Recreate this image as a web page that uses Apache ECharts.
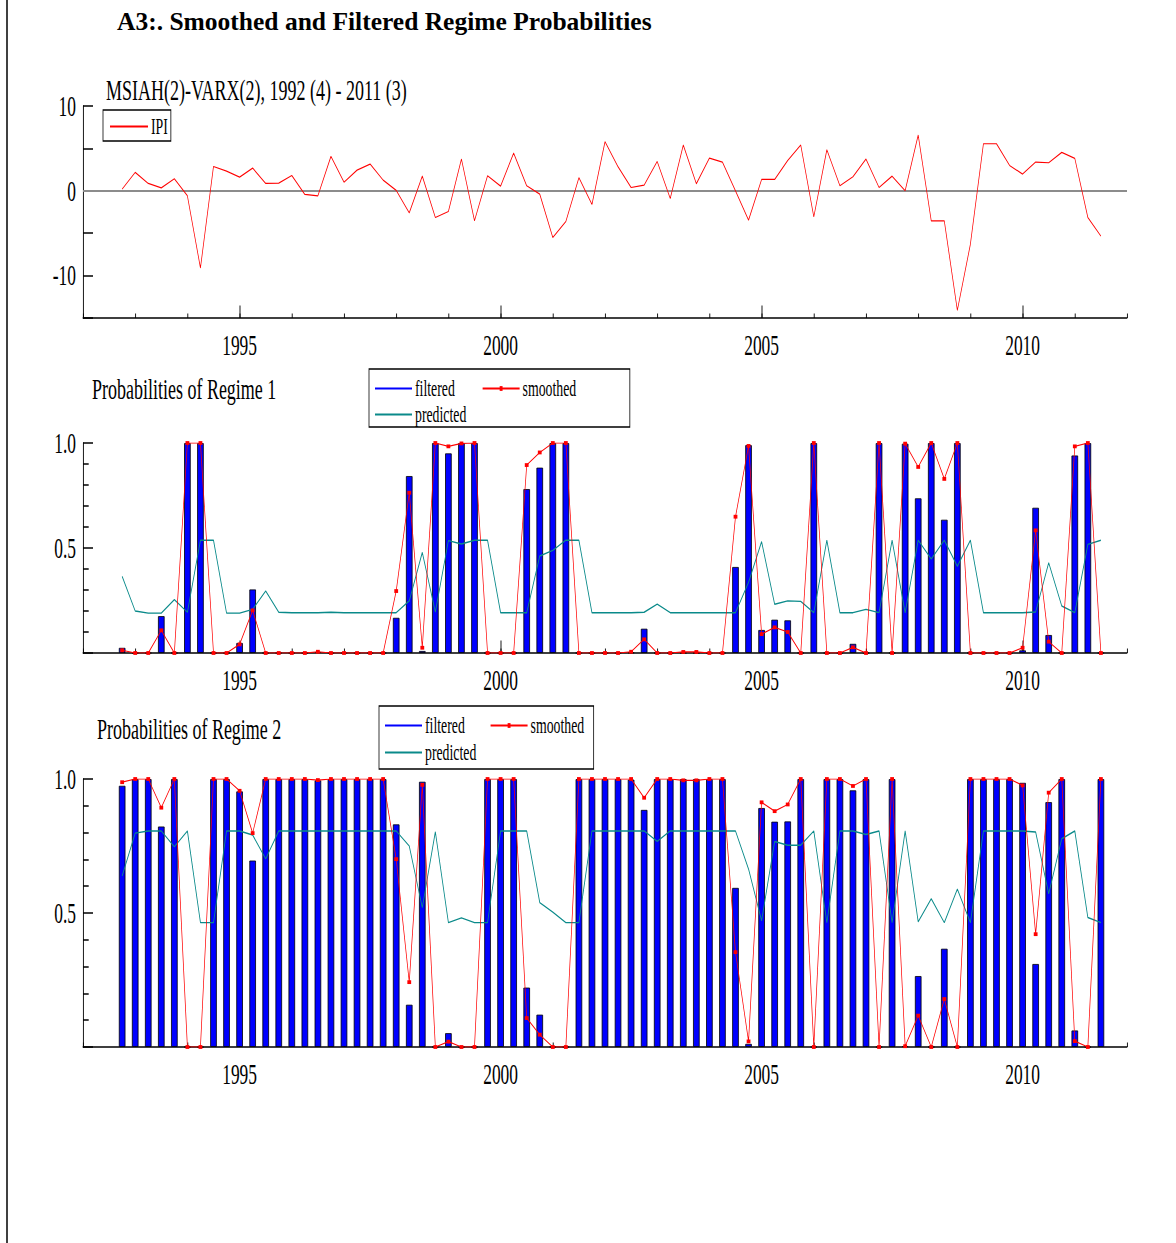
<!DOCTYPE html>
<html>
<head>
<meta charset="utf-8">
<title>A3:. Smoothed and Filtered Regime Probabilities</title>
<script src="https://cdn.jsdelivr.net/npm/echarts@6/dist/echarts.min.js"></script>
<style>
  html, body { margin: 0; padding: 0; background: #fff; overflow: hidden; }
  #chart { position: absolute; left: 0; top: 0; height: 1243px; transform-origin: 0 0; }
</style>
</head>
<body>
<div id="chart"></div>
<script>
// the source graph was squeezed sideways, so draw it wide and scale the page down
const SX = 0.6
const X = px => px / SX

// first observation: 1992 (4)
const START = 1992.75
const yearLabels = [1995, 2000, 2005, 2010]
const ipiLabels = [-10, 0, 10]

const ipi = [0.2, 2.17, 0.87, 0.35, 1.42, -0.59, -9.1, 2.87, 2.32, 1.61,
  2.68, 0.87, 0.9, 1.81, -0.43, -0.59, 4.06, 1.02, 2.44, 3.15,
  1.26, 0.05, -2.6, 1.73, -3.15, -2.44, 3.74, -3.54, 1.77, 0.55,
  4.45, 0.59, -0.39, -5.5, -3.62, 1.54, -1.61, 5.79, 2.83, 0.39,
  0.67, 3.46, -0.9, 5.39, 0.83, 3.86, 3.39, 0.0, -3.46, 1.34,
  1.34, 3.58, 5.39, -3.07, 4.84, 0.59, 1.65, 3.74, 0.39, 1.73,
  0.0, 6.57, -3.54, -3.54, -14.1, -6.3, 5.55, 5.55, 2.99, 1.97,
  3.39, 3.31, 4.53, 3.82, -3.15, -5.35]

const filtered1 = [0.025, 0, 0, 0.176, 0, 1, 1, 0, 0, 0.048,
  0.303, 0, 0, 0, 0, 0.005, 0, 0, 0, 0,
  0, 0.168, 0.843, 0.01, 1, 0.951, 1, 1, 0, 0,
  0, 0.781, 0.883, 1, 1, 0, 0, 0, 0, 0.002,
  0.116, 0, 0, 0, 0, 0, 0, 0.41, 0.99, 0.11,
  0.159, 0.156, 0, 1, 0, 0, 0.044, 0, 1, 0,
  0.997, 0.737, 1, 0.635, 1, 0, 0, 0, 0, 0.013,
  0.692, 0.086, 0, 0.941, 1, 0]
const smoothed1 = [0.013, 0, 0, 0.108, 0, 1, 1, 0, 0, 0.041,
  0.203, 0, 0, 0, 0, 0.006, 0, 0, 0, 0,
  0, 0.295, 0.763, 0.025, 1, 0.984, 0.998, 1, 0, 0,
  0, 0.895, 0.955, 1, 1, 0, 0, 0, 0, 0.006,
  0.065, 0, 0, 0.005, 0.005, 0, 0, 0.649, 0.986, 0.09,
  0.122, 0.1, 0, 1, 0, 0, 0.027, 0, 1, 0,
  0.997, 0.886, 1, 0.829, 1, 0, 0, 0, 0, 0.025,
  0.584, 0.054, 0, 0.984, 1, 0]
const predicted1 = [0.365, 0.2, 0.19, 0.19, 0.254, 0.194, 0.537, 0.537, 0.19, 0.19,
  0.208, 0.295, 0.194, 0.192, 0.192, 0.192, 0.194, 0.192, 0.192, 0.192,
  0.192, 0.192, 0.248, 0.479, 0.195, 0.535, 0.519, 0.537, 0.537, 0.192,
  0.192, 0.192, 0.462, 0.489, 0.537, 0.537, 0.192, 0.192, 0.192, 0.192,
  0.194, 0.233, 0.192, 0.192, 0.192, 0.192, 0.192, 0.192, 0.336, 0.53,
  0.232, 0.248, 0.246, 0.192, 0.537, 0.192, 0.192, 0.208, 0.192, 0.537,
  0.192, 0.537, 0.448, 0.537, 0.413, 0.537, 0.192, 0.192, 0.192, 0.192,
  0.195, 0.43, 0.224, 0.192, 0.517, 0.537]

const filtered2 = [0.975, 1, 1, 0.823, 1, 0, 0, 1, 1, 0.954,
  0.696, 1, 1, 1, 1, 0.995, 1, 1, 1, 1,
  1, 0.831, 0.158, 0.99, 0, 0.052, 0, 0, 1, 1,
  1, 0.222, 0.121, 0, 0, 1, 1, 1, 1, 0.998,
  0.885, 1, 1, 1, 1, 1, 1, 0.594, 0.012, 0.892,
  0.841, 0.842, 1, 0, 1, 1, 0.958, 1, 0, 1,
  0.003, 0.265, 0, 0.367, 0, 1, 1, 1, 1, 0.986,
  0.31, 0.914, 1, 0.062, 0, 1]
const smoothed2 = [0.988, 1, 1, 0.893, 1, 0, 0, 1, 1, 0.956,
  0.798, 1, 1, 1, 1, 0.996, 1, 1, 1, 1,
  1, 0.701, 0.242, 0.978, 0, 0.02, 0, 0, 1, 1,
  1, 0.108, 0.046, 0, 0, 1, 1, 1, 1, 1,
  0.93, 1, 1, 0.995, 0.995, 1, 1, 0.354, 0.021, 0.913,
  0.88, 0.905, 1, 0, 1, 1, 0.974, 1, 0, 1,
  0.003, 0.117, 0, 0.179, 0, 1, 1, 1, 1, 0.976,
  0.421, 0.949, 1, 0.022, 0, 1]
const predicted2 = [0.638, 0.798, 0.806, 0.806, 0.747, 0.806, 0.464, 0.464, 0.806, 0.806,
  0.791, 0.702, 0.806, 0.806, 0.806, 0.806, 0.806, 0.806, 0.806, 0.806,
  0.806, 0.806, 0.75, 0.52, 0.803, 0.464, 0.482, 0.464, 0.464, 0.806,
  0.806, 0.806, 0.539, 0.503, 0.464, 0.464, 0.806, 0.806, 0.806, 0.806,
  0.806, 0.767, 0.806, 0.806, 0.806, 0.806, 0.806, 0.806, 0.664, 0.471,
  0.767, 0.753, 0.753, 0.806, 0.464, 0.806, 0.806, 0.793, 0.806, 0.464,
  0.806, 0.467, 0.553, 0.464, 0.589, 0.464, 0.806, 0.806, 0.806, 0.806,
  0.802, 0.572, 0.777, 0.806, 0.483, 0.464]

const dates = ipi.map((v, i) => START + i / 4)
const pairs = arr => arr.map((v, i) => [dates[i], v])

const font = 'Liberation Serif'
const black = { color: '#000', width: 1.5 }
const lineIcon = 'path://M0,0H62V2H0Z'

function timeAxes(g) {
  return [
    {
      gridIndex: g, type: 'value', min: 1992, max: 2012, interval: 1,
      axisLine: { onZero: false, lineStyle: black },
      axisTick: { inside: true, length: 4.5, lineStyle: black },
      axisLabel: {
        margin: 13, color: '#000', fontFamily: font, fontSize: 29,
        formatter: v => (yearLabels.includes(v) ? String(v) : ''),
      },
      splitLine: { show: false },
    },
    {
      gridIndex: g, type: 'value', position: 'bottom', min: 1992, max: 2012,
      axisLine: { show: false, onZero: false },
      axisTick: { inside: true, length: 12.5, customValues: yearLabels, lineStyle: black },
      axisLabel: { show: false },
      splitLine: { show: false },
    },
  ]
}

function probAxis(g) {
  return {
    gridIndex: g, type: 'value', min: 0, max: 1, interval: 0.5,
    axisLine: { show: true, lineStyle: black },
    axisTick: { show: true, inside: true, length: X(10), lineStyle: black },
    minorTick: { show: true, splitNumber: 5, length: X(5.7), lineStyle: black },
    axisLabel: {
      margin: X(7), color: '#000', fontFamily: font, fontSize: 29,
      formatter: v => (v === 0 ? '' : v.toFixed(1)),
    },
    splitLine: { show: false },
  }
}

function regimeSeries(g, filtered, smoothed, predicted) {
  return [
    {
      type: 'bar', name: 'filtered', xAxisIndex: g * 2, yAxisIndex: g,
      data: pairs(filtered), barWidth: X(6.4),
      itemStyle: { color: '#0000ff', borderColor: '#000', borderWidth: 1 },
      z: 2,
    },
    {
      type: 'line', name: 'predicted', xAxisIndex: g * 2, yAxisIndex: g,
      data: pairs(predicted), symbol: 'none',
      lineStyle: { color: '#0a8a8a', width: 1.4 }, itemStyle: { color: '#0a8a8a' },
      z: 3,
    },
    {
      type: 'line', name: 'smoothed', xAxisIndex: g * 2, yAxisIndex: g,
      data: pairs(smoothed), symbol: 'rect', symbolSize: [X(3.8), 3.8],
      lineStyle: { color: '#ff0000', width: 1.2 }, itemStyle: { color: '#ff0000' },
      z: 4,
    },
  ]
}

function regimeLegend(left, top, textWidth, gap, padding) {
  return {
    left: X(left), top: top, orient: 'horizontal', width: X(250),
    itemWidth: X(37), itemHeight: 6, itemGap: gap,
    padding: padding,
    borderColor: '#000', borderWidth: 1.3, backgroundColor: '#fff',
    textStyle: { fontFamily: font, fontSize: 23, color: '#000', lineHeight: 22, width: textWidth },
    data: [
      { name: 'filtered', icon: lineIcon, itemStyle: { borderWidth: 0 } },
      'smoothed',
      { name: 'predicted', icon: lineIcon },
    ],
  }
}

const el = document.getElementById('chart')
el.style.width = X(1176) + 'px'
el.style.transform = 'scaleX(' + SX + ')'
const chart = echarts.init(el, null, { renderer: 'svg' })

const option = {
  animation: false,
  backgroundColor: '#fff',
  grid: [
    { left: X(83), width: X(1044), top: 106, height: 212 },
    { left: X(83), width: X(1044), top: 443, height: 210 },
    { left: X(83), width: X(1044), top: 779, height: 268 },
  ],
  xAxis: [...timeAxes(0), ...timeAxes(1), ...timeAxes(2)],
  yAxis: [
    {
      gridIndex: 0, type: 'value', min: -15, max: 10, interval: 5,
      axisLine: { show: true, lineStyle: black },
      axisTick: { show: true, inside: true, length: X(10), lineStyle: black },
      axisLabel: {
        margin: X(7), color: '#000', fontFamily: font, fontSize: 29,
        formatter: v => (ipiLabels.includes(v) ? String(v) : ''),
      },
      splitLine: { show: false },
    },
    probAxis(1),
    probAxis(2),
  ],
  legend: [
    {
      left: X(103), top: 110, itemWidth: X(38), itemHeight: 6,
      padding: [5, X(3), 3, X(7)],
      borderColor: '#000', borderWidth: 1.3, backgroundColor: '#fff',
      textStyle: { fontFamily: font, fontSize: 23, color: '#000', lineHeight: 22 },
      data: [{ name: 'IPI', icon: lineIcon }],
    },
    regimeLegend(369, 369, 108.7, 3, [8, X(42), 1, X(6)]),
    regimeLegend(379, 706, 104.3, 4, [8, X(0.5), 5, X(6)]),
  ],
  graphic: [
    {
      type: 'line', silent: true,
      shape: { x1: X(7), y1: 0, x2: X(7), y2: 1243 },
      style: { stroke: '#000', lineWidth: 2.5 },
    },
    {
      type: 'text', x: X(117), y: 22, scaleX: 1 / SX,
      style: {
        text: 'A3:. Smoothed and Filtered Regime Probabilities',
        fontFamily: font, fontWeight: 'bold', fontSize: 25.5, fill: '#000', verticalAlign: 'middle',
      },
    },
    {
      type: 'text', x: X(106), y: 90,
      style: { text: 'MSIAH(2)-VARX(2), 1992 (4) - 2011 (3)', fontFamily: font, fontSize: 30, fill: '#000', verticalAlign: 'middle' },
    },
    {
      type: 'text', x: X(92), y: 389,
      style: { text: 'Probabilities of Regime 1', fontFamily: font, fontSize: 30, fill: '#000', verticalAlign: 'middle' },
    },
    {
      type: 'text', x: X(97), y: 729,
      style: { text: 'Probabilities of Regime 2', fontFamily: font, fontSize: 30, fill: '#000', verticalAlign: 'middle' },
    },
  ],
  series: [
    {
      type: 'line', name: 'IPI', xAxisIndex: 0, yAxisIndex: 0,
      data: pairs(ipi), symbol: 'none',
      lineStyle: { color: '#ff0000', width: 1.2 }, itemStyle: { color: '#ff0000' },
      z: 3,
      markLine: {
        silent: true, symbol: 'none', z: 1,
        label: { show: false },
        lineStyle: { color: '#8c8c8c', type: 'solid', width: 2 },
        data: [{ yAxis: 0 }],
      },
    },
    ...regimeSeries(1, filtered1, smoothed1, predicted1),
    ...regimeSeries(2, filtered2, smoothed2, predicted2),
  ],
}

chart.setOption(option)
</script>
</body>
</html>
